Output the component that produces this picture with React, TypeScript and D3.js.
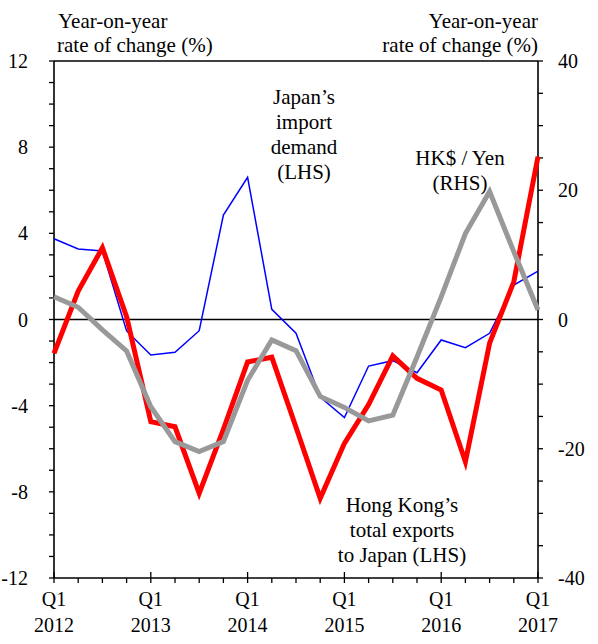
import * as d3 from "d3";
import { useEffect } from "react";

// quarters Q1 2012 .. Q1 2017
const quarters = d3.range(21);
const yearLabels = ["2012", "2013", "2014", "2015", "2016", "2017"];

// Japan's import demand, % yoy (LHS)
const japanImports = [
  3.75, 3.27, 3.18, -0.53, -1.65, -1.52, -0.52, 4.85, 6.6, 0.47, -0.64,
  -3.6, -4.55, -2.16, -1.91, -2.47, -0.95, -1.31, -0.64, 1.6, 2.25,
];

// HK total exports to Japan, % yoy (LHS)
const hkExports = [
  -1.57, 1.32, 3.33, 0.13, -4.74, -4.98, -8.07, -5.1, -1.97, -1.75, -5.0,
  -8.3, -5.75, -3.95, -1.69, -2.73, -3.27, -6.6, -1.1, 1.75, 7.56,
];

// HK$ / Yen, % yoy (RHS)
const hkdYen = [
  3.53, 1.89, -1.6, -4.87, -13.5, -18.9, -20.45, -18.9, -9.4, -3.17, -4.82,
  -11.9, -13.6, -15.7, -14.8, -5.8, 3.5, 13.3, 19.8, 10.5, 1.47,
];

const leftTicks = [12, 8, 4, 0, -4, -8, -12];
const rightTicks = [40, 20, 0, -20, -40];

const W = 598;
const H = 644;
const m = { left: 54, right: 60, top: 61, bottom: 66 };
const x0 = m.left;
const x1 = W - m.right;
const yTop = m.top;
const yBot = H - m.bottom;

const FONT = "'Liberation Serif', 'Times New Roman', serif";

export default function App() {
  useEffect(() => {
    document.body.style.margin = "0";
  }, []);

  const x = d3.scaleLinear().domain([0, 20]).range([x0, x1]);
  const yL = d3.scaleLinear().domain([-12, 12]).range([yBot, yTop]);
  const yR = d3.scaleLinear().domain([-40, 40]).range([yBot, yTop]);

  const lineL = d3
    .line<number>()
    .x((_, i) => x(quarters[i]))
    .y((d) => yL(d));
  const lineR = d3
    .line<number>()
    .x((_, i) => x(quarters[i]))
    .y((d) => yR(d));

  const leftMinor = d3.range(-12, 13, 1);
  const rightMinor = d3.range(-40, 41, 5);

  return (
    <svg width={W} height={H} style={{ display: "block" }} fontFamily={FONT}>
      <rect width={W} height={H} fill="#fff" />

      {/* frame */}
      <g stroke="#000" strokeWidth={1.6} fill="none">
        <line x1={x0} x2={x1} y1={yTop} y2={yTop} />
        <line x1={x0} x2={x1} y1={yBot} y2={yBot} />
        <line x1={x0} x2={x0} y1={yTop} y2={yBot} />
        <line x1={x1} x2={x1} y1={yTop} y2={yBot} />
        <line x1={x0} x2={x1} y1={yL(0)} y2={yL(0)} />
      </g>

      {/* ticks */}
      <g stroke="#000" strokeWidth={1.3}>
        {leftMinor.map((v) => (
          <line key={v} x1={x0 - 5} x2={x0} y1={yL(v)} y2={yL(v)} />
        ))}
        {rightMinor.map((v) => (
          <line key={v} x1={x1} x2={x1 + 5} y1={yR(v)} y2={yR(v)} />
        ))}
        {quarters.map((q) => (
          <line
            key={q}
            x1={x(q)}
            x2={x(q)}
            y1={q % 4 === 0 ? yBot - 6 : yBot}
            y2={yBot + 5}
          />
        ))}
      </g>

      <g fontSize={20} fill="#000">
        {leftTicks.map((v) => (
          <text key={v} x={x0 - 26} y={yL(v)} dy="0.35em" textAnchor="end">
            {v}
          </text>
        ))}
        {rightTicks.map((v) => (
          <text key={v} x={x1 + 20} y={yR(v)} dy="0.35em" textAnchor="start">
            {v}
          </text>
        ))}
        {yearLabels.map((yr, i) => (
          <g key={yr} textAnchor="middle">
            <text x={x(i * 4)} y={606}>
              Q1
            </text>
            <text x={x(i * 4)} y={632}>
              {yr}
            </text>
          </g>
        ))}
      </g>

      {/* series */}
      <path d={lineL(japanImports) ?? ""} fill="none" stroke="#0000ff" strokeWidth={1.5} />
      <path d={lineL(hkExports) ?? ""} fill="none" stroke="#ff0000" strokeWidth={5} />
      <path d={lineR(hkdYen) ?? ""} fill="none" stroke="#999999" strokeWidth={5} />

      {/* annotations */}
      <g fontSize={21} fill="#000">
        <text x={58} y={28}>Year-on-year</text>
        <text x={57} y={52}>rate of change (%)</text>
        <text x={x1} y={28} textAnchor="end">Year-on-year</text>
        <text x={x1} y={52} textAnchor="end">rate of change (%)</text>

        <g textAnchor="middle">
          <text x={304} y={104}>Japan’s</text>
          <text x={304} y={129}>import</text>
          <text x={304} y={154}>demand</text>
          <text x={304} y={179}>(LHS)</text>

          <text x={460} y={165}>HK$ / Yen</text>
          <text x={460} y={190}>(RHS)</text>

          <text x={402} y={512}>Hong Kong’s</text>
          <text x={402} y={537}>total exports</text>
          <text x={402} y={562}>to Japan (LHS)</text>
        </g>
      </g>
    </svg>
  );
}
